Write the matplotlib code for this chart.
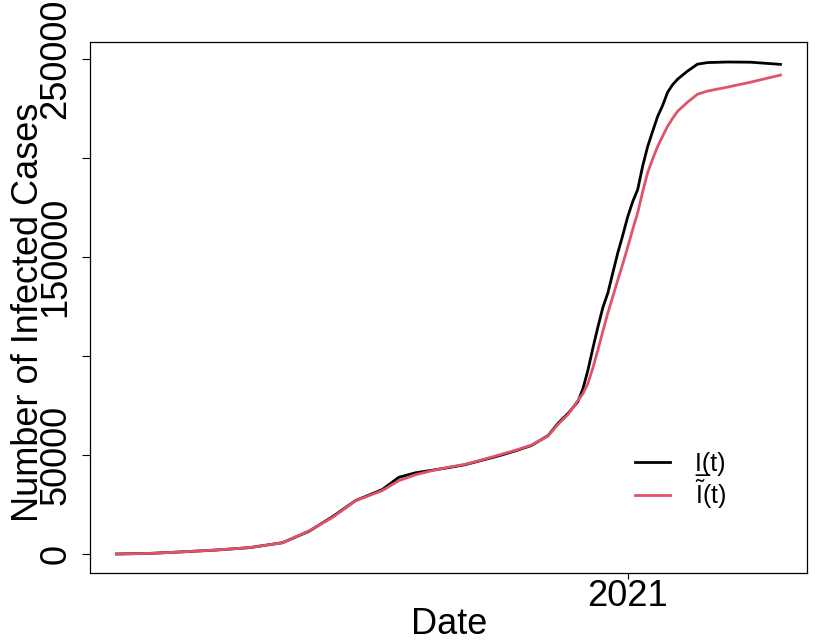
import matplotlib
matplotlib.use("Agg")
from matplotlib import pyplot as plt
import pandas as pd

plt.rcParams['font.family'] = ['Liberation Sans', 'DejaVu Sans']
plt.rcParams['mathtext.fontset'] = 'custom'
plt.rcParams['mathtext.rm'] = 'Liberation Sans'

dates = ["2020-02-28", "2020-03-19", "2020-04-08", "2020-04-28", "2020-05-18",
         "2020-06-07", "2020-06-23", "2020-07-07", "2020-07-21", "2020-08-06",
         "2020-08-16", "2020-08-26", "2020-09-05", "2020-09-15", "2020-09-25",
         "2020-10-05", "2020-10-15", "2020-10-25", "2020-11-04", "2020-11-14",
         "2020-11-20", "2020-11-26", "2020-12-02", "2020-12-05", "2020-12-08",
         "2020-12-11", "2020-12-14", "2020-12-17", "2020-12-20", "2020-12-23",
         "2020-12-26", "2020-12-29", "2021-01-01", "2021-01-04", "2021-01-07",
         "2021-01-10", "2021-01-13", "2021-01-16", "2021-01-19", "2021-01-22",
         "2021-01-25", "2021-01-28", "2021-01-31", "2021-02-06", "2021-02-12",
         "2021-02-18", "2021-03-02", "2021-03-16", "2021-04-03"]

infected = [0, 300, 1100, 2000, 3200,
            5700, 11500, 18800, 27000, 32500,
            38700, 41000, 42300, 43600, 45100,
            47300, 49500, 52000, 54800, 59800,
            66000, 71000, 77000, 83500, 92800,
            104000, 114600, 124500, 131800, 142000,
            152100, 161000, 170400, 178000, 184100,
            196000, 205800, 213500, 221000, 226500,
            233200, 237000, 239800, 243900, 247400,
            248200, 248500, 248400, 247300]

infected_est = [0, 300, 1100, 2000, 3200,
                5700, 11700, 18400, 26900, 32000,
                37000, 40000, 42100, 43800, 45300,
                47500, 49900, 52300, 55000, 59600,
                65500, 70500, 77600, 81000, 86200,
                94000, 103000, 112500, 121700, 130000,
                138400, 146500, 155100, 164000, 172400,
                183000, 192700, 199500, 205800, 211000,
                216000, 220000, 223600, 228200, 232200,
                233800, 235800, 238300, 241900]

ytick_vals = [0, 50000, 100000, 150000, 200000, 250000]
ytick_labels = ["0", "50000", "", "150000", "", "250000"]

x = pd.to_datetime(dates)

fig = plt.figure(figsize=(8.3, 6.42), dpi=100)
ax = fig.add_axes([90/830, 1-573/642, (807-90)/830, (573-42)/642])

ax.plot(x, infected, color="black", lw=2.0, label="I\u0332(t)")
ax.plot(x, infected_est, color="#DF536B", lw=2.0, label=r"$\tilde{\mathrm{I}}$(t)")

# R style 4% padding
span = x[-1] - x[0]
ax.set_xlim(x[0] - span*0.04, x[-1] + span*0.04)
ax.set_ylim(-9600, 258600)

ax.set_xticks([pd.Timestamp("2021-01-01")])
ax.set_xticklabels(["2021"])
ax.set_yticks(ytick_vals)
ax.set_yticklabels(ytick_labels, rotation=90, va="center")

ax.tick_params(axis="both", labelsize=26, width=0.8)
ax.tick_params(axis="y", pad=6, length=6)
ax.tick_params(axis="x", pad=0, length=4)
for s in ax.spines.values():
    s.set_linewidth(0.9)

ax.set_xlabel("Date", fontsize=26)
ax.set_ylabel("Number of Infected Cases", fontsize=26)
ax.xaxis.set_label_coords(0.501, -0.064)
ax.yaxis.set_label_coords(-0.062, 0.49)

ax.legend(loc="upper left", bbox_to_anchor=(0.729, 0.27), frameon=False,
          fontsize=18, handlelength=1.4, handletextpad=1.0, labelspacing=0.05)

fig.savefig("out.png", dpi=100)
